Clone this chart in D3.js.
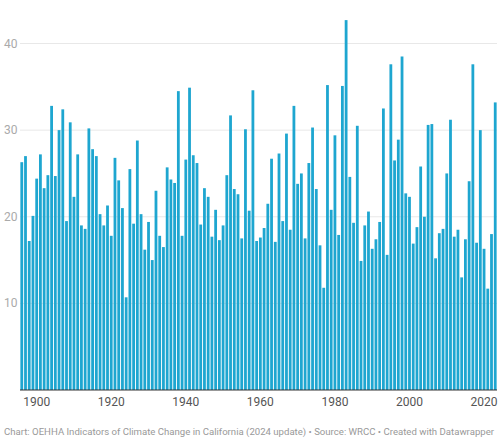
<!DOCTYPE html>
<html>
<head>
<meta charset="utf-8">
<script src="https://cdn.jsdelivr.net/npm/d3@7"></script>
<style>
body { margin: 0; background: #fff; font-family: Roboto, sans-serif; }
</style>
</head>
<body>
<div class="vis-holder"></div>
<script>
const width = 500;
const height = 441;

const firstYear = 1896;
const precip = [
    26.3, 27.0, 17.2, 20.1, 24.4, 27.2, 23.3, 24.8, 32.8, 24.7,
    30.0, 32.4, 19.5, 30.9, 22.3, 27.2, 19.0, 18.6, 30.2, 27.8,
    27.0, 20.3, 19.0, 21.3, 17.8, 26.8, 24.2, 21.0, 10.7, 25.5,
    19.2, 28.8, 20.3, 16.2, 19.4, 15.0, 23.0, 17.8, 16.5, 25.7,
    24.3, 23.9, 34.5, 17.8, 26.6, 34.9, 27.1, 26.2, 19.1, 23.3,
    22.3, 17.7, 20.8, 17.3, 19.0, 24.8, 31.7, 23.2, 22.6, 17.5,
    30.1, 20.7, 34.6, 17.2, 17.6, 18.7, 21.5, 26.7, 17.1, 27.3,
    19.5, 29.6, 18.5, 32.8, 23.8, 25.0, 17.5, 26.2, 30.3, 23.2,
    16.7, 11.8, 35.2, 20.8, 29.4, 17.9, 35.1, 42.7, 24.6, 19.3,
    30.5, 14.9, 19.0, 20.6, 16.3, 17.4, 19.4, 32.5, 15.6, 37.6,
    26.5, 28.9, 38.5, 22.7, 22.3, 16.9, 18.8, 25.8, 20.0, 30.6,
    30.7, 15.2, 18.1, 18.6, 25.0, 31.2, 17.7, 18.5, 13.0, 17.4,
    24.1, 37.6, 17.0, 30.0, 16.3, 11.7, 18.0, 33.2
];
const years = precip.map((v, i) => firstYear + i);
const yTicks = [10, 20, 30, 40];
const xTicks = [1900, 1920, 1940, 1960, 1980, 2000, 2020];
const footer = "Chart: OEHHA Indicators of Climate Change in California (2024 update) \u2022 Source: WRCC \u2022 Created with Datawrapper";

const svg = d3.select(".vis-holder").append("svg")
    .attr("width", width)
    .attr("height", height);

const x = d3.scaleBand()
    .domain(years)
    .range([20, 497])
    .paddingInner(0.25)
    .paddingOuter(0.1);

const y = d3.scaleLinear()
    .domain([0, 40])
    .range([390, 43.5]);

// gridlines + y labels
svg.selectAll("line.grid")
    .data(yTicks)
    .enter().append("line")
    .attr("x1", 20)
    .attr("x2", 497)
    .attr("y1", d => y(d))
    .attr("y2", d => y(d))
    .attr("stroke", "#e8e8e8");

svg.selectAll("text.ylab")
    .data(yTicks)
    .enter().append("text")
    .attr("x", 4)
    .attr("y", d => y(d) + 4)
    .attr("font-size", 12)
    .attr("fill", "#aaa")
    .text(d => d);

svg.selectAll("rect")
    .data(precip)
    .enter().append("rect")
    .attr("x", (d, i) => x(years[i]))
    .attr("width", x.bandwidth())
    .attr("y", d => y(d))
    .attr("height", d => y(0) - y(d))
    .attr("fill", "#1ea6d0");

svg.append("line")
    .attr("x1", 20)
    .attr("x2", 497)
    .attr("y1", y(0))
    .attr("y2", y(0))
    .attr("stroke", "#333")
    .attr("stroke-width", 1);

svg.selectAll("text.xlab")
    .data(xTicks)
    .enter().append("text")
    .attr("x", d => x(d) + x.bandwidth() / 2)
    .attr("y", 406)
    .attr("text-anchor", "middle")
    .attr("font-size", 12)
    .attr("fill", "#555")
    .text(d => d);

svg.append("text")
    .attr("x", 4)
    .attr("y", 435)
    .attr("font-size", 9.5)
    .attr("fill", "#999")
    .attr("textLength", 490)
    .attr("lengthAdjust", "spacingAndGlyphs")
    .text(footer);
</script>
</body>
</html>
